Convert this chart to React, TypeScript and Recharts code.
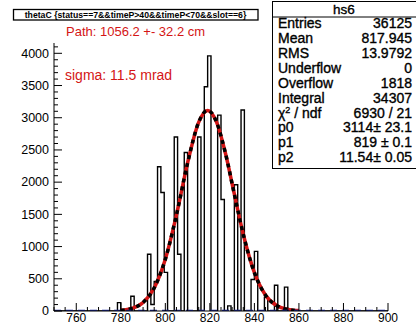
import { ComposedChart, Line, XAxis, YAxis } from "recharts";

const W = 416;
const H = 323;
const FONT = "'Liberation Sans', Arial, Helvetica, sans-serif";

// hs6: 100 bins of 1.5 from 750 to 900; only the non-empty bins (left edge, content)
const binLow = 750;
const binHigh = 900;
const binWidth = 1.5;
const filledBinEdges = [
  778.5, 784.5, 792, 793.5, 795, 796.5, 798, 799.5, 804, 805.5, 808.5, 814.5,
  817.5, 819, 823.5, 825, 828, 831, 834, 838.5, 840, 844.5, 849, 853.5,
];
const filledBinCounts = [
  130, 230, 880, 100, 460, 2240, 1840, 600, 2700, 880, 2460, 2700,
  3480, 3960, 3040, 1730, 80, 1960, 3120, 490, 925, 215, 400, 370,
];

// gaussian fit curve
const fitTheta = [780, 785, 790, 795, 800, 805, 810, 815, 819, 823, 827, 831, 835, 840, 845, 850, 855, 860];
const fitCounts = [10, 41, 132, 358, 804, 1492, 2298, 2932, 3114, 2932, 2449, 1813, 1191, 595, 246, 84, 24, 6];

const xLabelTicks = [760, 780, 800, 820, 840, 860, 880, 900];
const yLabelTicks = [0, 500, 1000, 1500, 2000, 2500, 3000, 3500, 4000];

const statsRows = [
  ["Entries", "36125"],
  ["Mean", "817.945"],
  ["RMS", "13.9792"],
  ["Underflow", "0"],
  ["Overflow", "1818"],
  ["Integral", "34307"],
  ["chi2", "6930 / 21"],
  ["p0", "3114\u00b1 23.1"],
  ["p1", "819 \u00b1 0.1"],
  ["p2", "11.54\u00b1 0.05"],
];

const histData: { theta: number; count: number }[] = [];
for (let k = 0; k <= (binHigh - binLow) / binWidth; k++) {
  const theta = binLow + k * binWidth;
  const i = filledBinEdges.indexOf(theta);
  histData.push({ theta, count: i >= 0 ? filledBinCounts[i] : 0 });
}
const fitData = fitTheta.map((theta, i) => ({ theta, fit: fitCounts[i] }));
const zeroData = [
  { theta: binLow, zero: 0 },
  { theta: binHigh, zero: 0 },
];

const xFrameTicks: number[] = [];
for (let v = 750; v <= 900; v += 5) xFrameTicks.push(v);
const yFrameTicks: number[] = [];
for (let v = 0; v <= 4100; v += 100) yFrameTicks.push(v);

const RED = "#d41515";

function BottomTick(props: any) {
  const { x, y, payload } = props;
  const v = payload.value;
  const major = v % 20 === 0;
  return (
    <g>
      <line x1={x} x2={x} y1={y} y2={y - (major ? 8 : 4)} stroke="#000" />
      {xLabelTicks.includes(v) ? (
        <text x={x} y={y + 10.5} textAnchor="middle" fontSize={12} fill="#000" fontFamily={FONT}>
          {v}
        </text>
      ) : null}
    </g>
  );
}

function TopTick(props: any) {
  const { x, y, payload } = props;
  const major = payload.value % 20 === 0;
  return <line x1={x} x2={x} y1={y} y2={y + (major ? 8 : 4)} stroke="#000" />;
}

function LeftTick(props: any) {
  const { x, y, payload } = props;
  const v = payload.value;
  const major = v % 500 === 0;
  return (
    <g>
      <line x1={x} x2={x + (major ? 8 : 4)} y1={y} y2={y} stroke="#000" />
      {yLabelTicks.includes(v) ? (
        <text x={x - 5} y={y + 4.3} textAnchor="end" fontSize={12.5} fill="#000" fontFamily={FONT}>
          {v}
        </text>
      ) : null}
    </g>
  );
}

function RightTick(props: any) {
  const { x, y, payload } = props;
  const major = payload.value % 500 === 0;
  return <line x1={x} x2={x - (major ? 8 : 4)} y1={y} y2={y} stroke="#000" />;
}

function Overlay() {
  const rowTop = 17;
  const rowH = 14.85;
  const heavy = { stroke: "#000", strokeWidth: 0.35 };
  return (
    <svg
      width={W}
      height={H}
      style={{ position: "absolute", left: 0, top: 0, pointerEvents: "none" }}
      fontFamily={FONT}
    >
      <rect x={13.5} y={9.5} width={244.5} height={10.5} fill="#fff" stroke="#000" strokeWidth={1.3} />
      <text x={135.5} y={17.8} textAnchor="middle" fontSize={8.7} fontWeight="bold" fill="#000">
        {"thetaC {status==7&&timeP>40&&timeP<70&&slot==6}"}
      </text>

      <text x={66} y={36} fontSize={13} fill={RED}>
        Path: 1056.2 +- 32.2 cm
      </text>
      <text x={65} y={80} fontSize={14} fill={RED}>
        sigma: 11.5 mrad
      </text>

      <rect x={272.5} y={1.5} width={150} height={167} fill="#fff" stroke="#000" />
      <line x1={272.5} x2={416} y1={rowTop} y2={rowTop} stroke="#000" />
      <text x={344} y={13.5} textAnchor="middle" fontSize={13.5} fill="#000" {...heavy}>
        hs6
      </text>
      {statsRows.map(([label, value], i) => {
        const base = rowTop + rowH * (i + 0.5) + 4;
        return (
          <g key={label}>
            {label === "chi2" ? (
              <text x={278} y={base} fontSize={14} fill="#000" {...heavy}>
                {"\u03c7"}
                <tspan dy={-5} fontSize={9}>
                  2
                </tspan>
                <tspan dy={5}>{" / ndf"}</tspan>
              </text>
            ) : (
              <text x={278} y={base} fontSize={14} fill="#000" {...heavy}>
                {label}
              </text>
            )}
            <text x={412} y={base} textAnchor="end" fontSize={14} fill="#000" {...heavy}>
              {value}
            </text>
          </g>
        );
      })}
    </svg>
  );
}

export default function App() {
  return (
    <div style={{ position: "absolute", left: 0, top: 0, width: W, height: H, background: "#fff" }}>
      <ComposedChart width={W} height={H} margin={{ top: 43, right: 28, bottom: 0, left: 0 }}>
        <XAxis
          xAxisId="b"
          type="number"
          dataKey="theta"
          orientation="bottom"
          domain={[binLow, binHigh]}
          allowDataOverflow
          ticks={xFrameTicks}
          interval={0}
          height={12}
          tickSize={0}
          tickMargin={0}
          tickLine={false}
          axisLine={{ stroke: "#000" }}
          tick={BottomTick}
        />
        <XAxis
          xAxisId="t"
          type="number"
          dataKey="theta"
          orientation="top"
          domain={[binLow, binHigh]}
          allowDataOverflow
          ticks={xFrameTicks}
          interval={0}
          height={0}
          tickSize={0}
          tickMargin={0}
          tickLine={false}
          axisLine={{ stroke: "#000" }}
          tick={TopTick}
        />
        <YAxis
          yAxisId="l"
          type="number"
          orientation="left"
          domain={[0, 4160]}
          allowDataOverflow
          ticks={yFrameTicks}
          interval={0}
          width={54}
          tickSize={0}
          tickMargin={0}
          tickLine={false}
          axisLine={{ stroke: "#000" }}
          tick={LeftTick}
        />
        <YAxis
          yAxisId="r"
          type="number"
          orientation="right"
          domain={[0, 4160]}
          allowDataOverflow
          ticks={yFrameTicks}
          interval={0}
          width={0}
          tickSize={0}
          tickMargin={0}
          tickLine={false}
          axisLine={{ stroke: "#000" }}
          tick={RightTick}
        />
        <Line
          xAxisId="b"
          yAxisId="l"
          data={histData}
          dataKey="count"
          type="stepAfter"
          stroke="#000"
          strokeWidth={1.4}
          dot={false}
          activeDot={false}
          isAnimationActive={false}
        />
        <Line
          xAxisId="b"
          yAxisId="l"
          data={fitData}
          dataKey="fit"
          type="monotone"
          stroke={RED}
          strokeWidth={3.5}
          dot={false}
          activeDot={false}
          isAnimationActive={false}
        />
        <Line
          xAxisId="b"
          yAxisId="l"
          data={fitData}
          dataKey="fit"
          type="monotone"
          stroke="#000"
          strokeWidth={3.5}
          strokeDasharray="4 4"
          dot={false}
          activeDot={false}
          isAnimationActive={false}
        />
        <Line
          xAxisId="b"
          yAxisId="l"
          data={zeroData}
          dataKey="zero"
          type="linear"
          stroke="#1c2a9e"
          strokeWidth={2.5}
          strokeDasharray="7 5"
          dot={false}
          activeDot={false}
          isAnimationActive={false}
        />
      </ComposedChart>
      <Overlay />
    </div>
  );
}
